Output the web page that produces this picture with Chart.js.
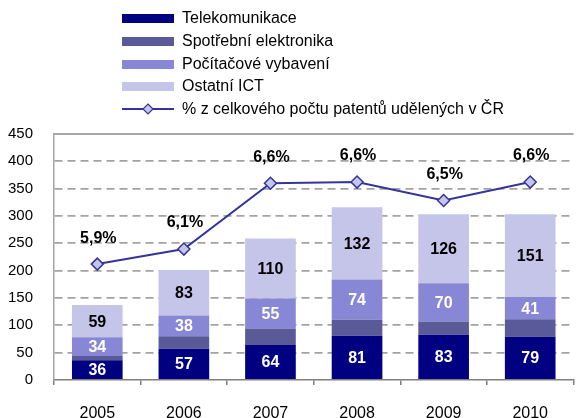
<!DOCTYPE html>
<html>
<head>
<meta charset="utf-8">
<script src="https://cdn.jsdelivr.net/npm/chart.js@4"></script>
<style>
    body { margin: 0; overflow: hidden; background: #fff; font-family: Arial, "Liberation Sans", sans-serif; }
    #wrap { position: relative; width: 581px; height: 418px; }
    #legend { position: absolute; left: 122px; top: 7px; }
    .item { position: relative; height: 22.8px; line-height: 22.8px; font-size: 16px; color: #000; padding-left: 60px; white-space: nowrap; }
    .swatch { position: absolute; left: 0; top: 7px; width: 52px; height: 9px; }
    .item svg { position: absolute; left: 0; top: 4px; }
</style>
</head>
<body>
<div id="wrap">
    <canvas id="chart" width="581" height="418"></canvas>
    <div id="legend"></div>
</div>
<script>
const years = ['2005', '2006', '2007', '2008', '2009', '2010'];
const telekomunikace = [36, 57, 64, 81, 83, 79];
const spotrebni = [8, 23, 30, 29, 24, 32];
const pocitacove = [34, 38, 55, 74, 70, 41];
const ostatni = [59, 83, 110, 132, 126, 151];
const podil = [5.92, 6.05, 6.62, 6.63, 6.47, 6.63];
const podilLabels = ['5,9%', '6,1%', '6,6%', '6,6%', '6,5%', '6,6%'];

const lineColor = '#34349c';

const barSets = [
    { label: 'Telekomunikace', data: telekomunikace, color: '#000080', text: '#fff' },
    { label: 'Spotřební elektronika', data: spotrebni, color: '#5a5a98', text: null },
    { label: 'Počítačové vybavení', data: pocitacove, color: '#8787d6', text: '#fff' },
    { label: 'Ostatní ICT', data: ostatni, color: '#c5c5ea', text: '#000' }
];
const lineLabel = '% z celkového počtu patentů udělených v ČR';

// labels inside bars and above the line points
const labelPlugin = {
    id: 'labels',
    beforeDatasetsDraw(chart) {
        const { ctx, chartArea } = chart;
        ctx.save();
        ctx.strokeStyle = '#a6a6a6';
        ctx.lineWidth = 2;
        ctx.beginPath();
        ctx.moveTo(chartArea.left, chartArea.top);
        ctx.lineTo(chartArea.right, chartArea.top);
        ctx.stroke();
        ctx.restore();
    },
    afterDatasetsDraw(chart) {
        const ctx = chart.ctx;
        ctx.save();
        ctx.font = 'bold 16px Arial';
        ctx.textAlign = 'center';
        ctx.textBaseline = 'middle';
        barSets.forEach((s, i) => {
            if (!s.text) return;
            ctx.fillStyle = s.text;
            chart.getDatasetMeta(i).data.forEach((bar, j) => {
                ctx.fillText(String(s.data[j]), bar.x, (bar.y + bar.base) / 2 + 1);
            });
        });
        ctx.fillStyle = '#000';
        chart.getDatasetMeta(4).data.forEach((pt, j) => {
            ctx.fillText(podilLabels[j], pt.x + 1, pt.y - 26);
        });
        ctx.restore();
    }
};

const datasets = barSets.map(s => ({
    type: 'bar',
    label: s.label,
    data: s.data,
    backgroundColor: s.color,
    borderWidth: 0,
    stack: 'ict',
    yAxisID: 'y',
    order: 1,
    barPercentage: 0.585,
    categoryPercentage: 1
}));
datasets.push({
    type: 'line',
    label: lineLabel,
    data: podil,
    yAxisID: 'y2',
    borderColor: lineColor,
    borderWidth: 2,
    pointStyle: 'rectRot',
    pointRadius: 6,
    pointBackgroundColor: '#c5c5ea',
    pointBorderColor: lineColor,
    pointBorderWidth: 1.5,
    tension: 0,
    order: 0
});

new Chart(document.getElementById('chart'), {
    data: { labels: years, datasets: datasets },
    options: {
        responsive: false,
        animation: false,
        layout: { padding: { top: 134, left: 0, right: 0, bottom: 0 } },
        plugins: { legend: { display: false }, tooltip: { enabled: false } },
        scales: {
            x: {
                stacked: true,
                afterFit: s => { s.height = 38; },
                grid: { offset: true, drawOnChartArea: false, tickLength: 5, color: '#7f7f7f', lineWidth: 1.5 },
                border: { color: '#7f7f7f', width: 1.5 },
                ticks: { color: '#000', font: { family: 'Arial', size: 16 }, padding: 19 }
            },
            y: {
                stacked: true,
                min: 0,
                max: 450,
                afterFit: s => { s.width = 54; },
                ticks: { stepSize: 50, color: '#000', font: { family: 'Arial', size: 15 }, padding: 21 },
                grid: {
                    drawTicks: false,
                    lineWidth: 1.8,
                    color: c => (c.tick && (c.tick.value === 0 || c.tick.value === 450)) ? 'rgba(0,0,0,0)' : '#a3a3a3'
                },
                border: { color: '#a6a6a6', width: 1.5, dash: [8, 5] }
            },
            y2: {
                display: false,
                min: 4.917,
                max: 7.046
            }
        }
    },
    plugins: [labelPlugin]
});

// legend as html
const legend = document.getElementById('legend');
barSets.forEach(s => {
    const row = document.createElement('div');
    row.className = 'item';
    row.innerHTML = '<span class="swatch" style="background:' + s.color + '"></span>';
    row.appendChild(document.createTextNode(s.label));
    legend.appendChild(row);
});
const lineRow = document.createElement('div');
lineRow.className = 'item';
lineRow.innerHTML = '<svg width="54" height="14"><line x1="0" y1="7" x2="52" y2="7" stroke="' + lineColor + '" stroke-width="2"/>' +
    '<polygon points="26,2 31,7 26,12 21,7" fill="#c5c5ea" stroke="' + lineColor + '" stroke-width="1.2"/></svg>';
lineRow.appendChild(document.createTextNode(lineLabel));
legend.appendChild(lineRow);
</script>
</body>
</html>
